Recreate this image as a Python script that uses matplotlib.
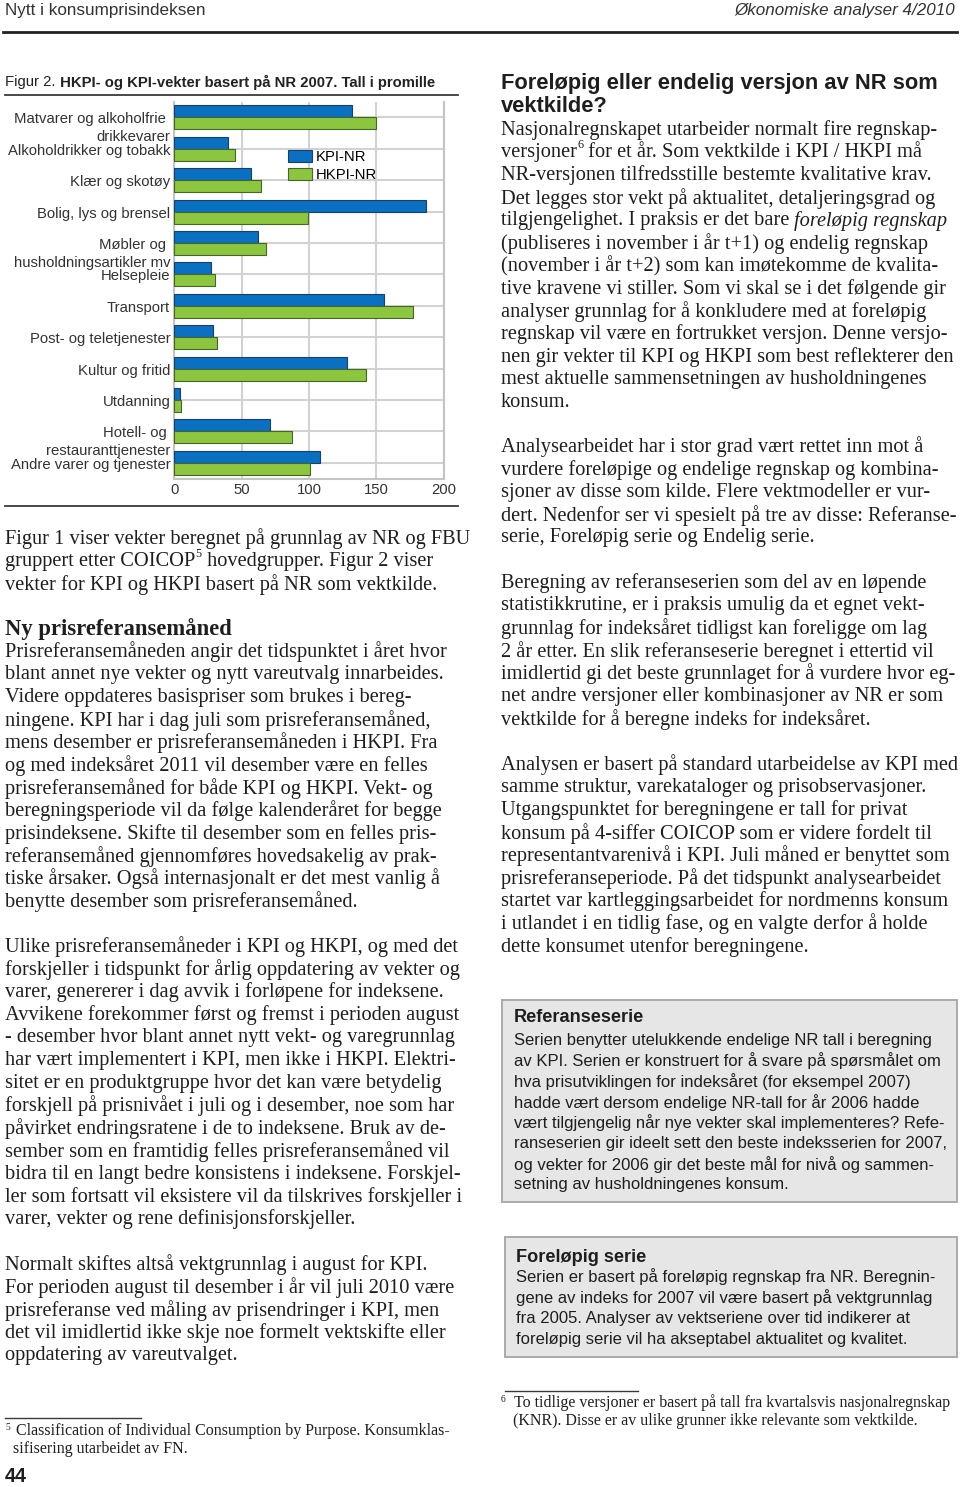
import re
import matplotlib
matplotlib.use('Agg')
import matplotlib.pyplot as plt
from matplotlib.patches import Rectangle
from matplotlib.lines import Line2D
import numpy as np

# --- chart data (promille) ---
categories = [
    'Matvarer og alkoholfrie\ndrikkevarer',
    'Alkoholdrikker og tobakk',
    'Klær og skotøy',
    'Bolig, lys og brensel',
    'Møbler og\nhusholdningsartikler mv',
    'Helsepleie',
    'Transport',
    'Post- og teletjenester',
    'Kultur og fritid',
    'Utdanning',
    'Hotell- og\nrestauranttjenester',
    'Andre varer og tjenester',
]
kpi_nr = [132, 40, 57, 187, 62, 27.5, 156, 28.5, 128, 4.5, 71, 108]
hkpi_nr = [150, 45, 64.5, 99, 68, 30.5, 177, 32, 142.5, 5, 87.5, 101]
x_ticks = [0, 50, 100, 150, 200]
series_names = ['KPI-NR', 'HKPI-NR']
chart_title = ['Figur 2.', ' HKPI- og KPI-vekter basert på NR 2007. Tall i promille']

# --- page text ---
header_left = 'Nytt i konsumprisindeksen'
header_right = 'Økonomiske analyser 4/2010'
page_number = '44'

left_p1 = [
    'Figur 1 viser vekter beregnet på grunnlag av NR og FBU',
    'gruppert etter COICOP^5 hovedgrupper. Figur 2 viser',
    'vekter for KPI og HKPI basert på NR som vektkilde.',
]
left_h2 = 'Ny prisreferansemåned'
left_p2 = [
    'Prisreferansemåneden angir det tidspunktet i året hvor',
    'blant annet nye vekter og nytt vareutvalg innarbeides.',
    'Videre oppdateres basispriser som brukes i bereg-',
    'ningene. KPI har i dag juli som prisreferansemåned,',
    'mens desember er prisreferansemåneden i HKPI. Fra',
    'og med indeksåret 2011 vil desember være en felles',
    'prisreferansemåned for både KPI og HKPI. Vekt- og',
    'beregningsperiode vil da følge kalenderåret for begge',
    'prisindeksene. Skifte til desember som en felles pris-',
    'referansemåned gjennomføres hovedsakelig av prak-',
    'tiske årsaker. Også internasjonalt er det mest vanlig å',
    'benytte desember som prisreferansemåned.',
]
left_p3 = [
    'Ulike prisreferansemåneder i KPI og HKPI, og med det',
    'forskjeller i tidspunkt for årlig oppdatering av vekter og',
    'varer, genererer i dag avvik i forløpene for indeksene.',
    'Avvikene forekommer først og fremst i perioden august',
    '- desember hvor blant annet nytt vekt- og varegrunnlag',
    'har vært implementert i KPI, men ikke i HKPI. Elektri-',
    'sitet er en produktgruppe hvor det kan være betydelig',
    'forskjell på prisnivået i juli og i desember, noe som har',
    'påvirket endringsratene i de to indeksene. Bruk av de-',
    'sember som en framtidig felles prisreferansemåned vil',
    'bidra til en langt bedre konsistens i indeksene. Forskjel-',
    'ler som fortsatt vil eksistere vil da tilskrives forskjeller i',
    'varer, vekter og rene definisjonsforskjeller.',
]
left_p4 = [
    'Normalt skiftes altså vektgrunnlag i august for KPI.',
    'For perioden august til desember i år vil juli 2010 være',
    'prisreferanse ved måling av prisendringer i KPI, men',
    'det vil imidlertid ikke skje noe formelt vektskifte eller',
    'oppdatering av vareutvalget.',
]
footnote5 = [
    'Classification of Individual Consumption by Purpose. Konsumklas-',
    'sifisering utarbeidet av FN.',
]

right_h = ['Foreløpig eller endelig versjon av NR som', 'vektkilde?']
right_p1 = [
    'Nasjonalregnskapet utarbeider normalt fire regnskap-',
    'versjoner^6 for et år. Som vektkilde i KPI / HKPI må',
    'NR-versjonen tilfredsstille bestemte kvalitative krav.',
    'Det legges stor vekt på aktualitet, detaljeringsgrad og',
    'tilgjengelighet. I praksis er det bare *foreløpig regnskap*',
    '(publiseres i november i år t+1) og endelig regnskap',
    '(november i år t+2) som kan imøtekomme de kvalita-',
    'tive kravene vi stiller. Som vi skal se i det følgende gir',
    'analyser grunnlag for å konkludere med at foreløpig',
    'regnskap vil være en fortrukket versjon. Denne versjo-',
    'nen gir vekter til KPI og HKPI som best reflekterer den',
    'mest aktuelle sammensetningen av husholdningenes',
    'konsum.',
]
right_p2 = [
    'Analysearbeidet har i stor grad vært rettet inn mot å',
    'vurdere foreløpige og endelige regnskap og kombina-',
    'sjoner av disse som kilde. Flere vektmodeller er vur-',
    'dert. Nedenfor ser vi spesielt på tre av disse: Referanse-',
    'serie, Foreløpig serie og Endelig serie.',
]
right_p3 = [
    'Beregning av referanseserien som del av en løpende',
    'statistikkrutine, er i praksis umulig da et egnet vekt-',
    'grunnlag for indeksåret tidligst kan foreligge om lag',
    '2 år etter. En slik referanseserie beregnet i ettertid vil',
    'imidlertid gi det beste grunnlaget for å vurdere hvor eg-',
    'net andre versjoner eller kombinasjoner av NR er som',
    'vektkilde for å beregne indeks for indeksåret.',
]
right_p4 = [
    'Analysen er basert på standard utarbeidelse av KPI med',
    'samme struktur, varekataloger og prisobservasjoner.',
    'Utgangspunktet for beregningene er tall for privat',
    'konsum på 4-siffer COICOP som er videre fordelt til',
    'representantvarenivå i KPI. Juli måned er benyttet som',
    'prisreferanseperiode. På det tidspunkt analysearbeidet',
    'startet var kartleggingsarbeidet for nordmenns konsum',
    'i utlandet i en tidlig fase, og en valgte derfor å holde',
    'dette konsumet utenfor beregningene.',
]
box1_head = 'Referanseserie'
box1_lines = [
    'Serien benytter utelukkende endelige NR tall i beregning',
    'av KPI. Serien er konstruert for å svare på spørsmålet om',
    'hva prisutviklingen for indeksåret (for eksempel 2007)',
    'hadde vært dersom endelige NR-tall for år 2006 hadde',
    'vært tilgjengelig når nye vekter skal implementeres? Refe-',
    'ranseserien gir ideelt sett den beste indeksserien for 2007,',
    'og vekter for 2006 gir det beste mål for nivå og sammen-',
    'setning av husholdningenes konsum.',
]
box2_head = 'Foreløpig serie'
box2_lines = [
    'Serien er basert på foreløpig regnskap fra NR. Beregnin-',
    'gene av indeks for 2007 vil være basert på vektgrunnlag',
    'fra 2005. Analyser av vektseriene over tid indikerer at',
    'foreløpig serie vil ha akseptabel aktualitet og kvalitet.',
]
footnote6 = [
    'To tidlige versjoner er basert på tall fra kvartalsvis nasjonalregnskap',
    '(KNR). Disse er av ulike grunner ikke relevante som vektkilde.',
]

W, H = 960, 1487
TXT = '#1e1e1e'
BLUE, BLUE_E = '#0a70c2', '#1b3f66'
GREEN, GREEN_E = '#8cc63f', '#45652a'
GRID = '#d2d2d2'

SERIF = dict(family=['Liberation Serif', 'DejaVu Serif'])
SERIF_B = dict(SERIF, weight='bold')
SERIF_I = dict(SERIF, style='italic')
SANS = dict(family=['Liberation Sans Narrow', 'Liberation Sans', 'DejaVu Sans'])
SANS_B = dict(SANS, weight='bold')
SANS_I = dict(SANS, style='italic')

fig = plt.figure(figsize=(W / 100, H / 100), dpi=100)
fig.patch.set_facecolor('white')
renderer = fig.canvas.get_renderer()


def fx(x):
    return x / W


def fy(y):
    return 1 - y / H


def parse(line, base, italic):
    segs = []
    for part in re.split(r'(\*[^*]+\*|\^\d)', line):
        if not part:
            continue
        if part.startswith('*'):
            segs.append((part[1:-1], italic))
        elif part.startswith('^'):
            segs.append((part[1:], dict(base, scale=0.6, rise=0.38)))
        else:
            segs.append((part, base))
    return segs


def draw_segs(x, y, segs, size, color=TXT, measure=False):
    cur = x
    made = []
    for text, props in segs:
        p = dict(props)
        scale = p.pop('scale', 1.0)
        rise = p.pop('rise', 0.0) * size * 100 / 72
        t = fig.text(fx(cur), fy(y - rise), text, fontsize=size * scale,
                     ha='left', va='center', color=color, **p)
        bb = t.get_window_extent(renderer)
        cur = bb.x1
        made.append(t)
    if measure:
        for t in made:
            t.remove()
    return cur - x


def fit(segs, target):
    return 10 * target / draw_segs(0, -200, segs, 10, measure=True)


def hline(x0, x1, y, lw, color='#3a3a3a'):
    fig.add_artist(Line2D([fx(x0), fx(x1)], [fy(y), fy(y)],
                          transform=fig.transFigure, color=color, lw=lw))


def block(x, y0, lines, size, step=22.7, base=SERIF, italic=SERIF_I):
    for i, line in enumerate(lines):
        draw_segs(x, y0 + i * step, parse(line, base, italic), size)


# --- header ---
hs = fit([(header_left, SANS)], 191) * 1.05
draw_segs(5, 11, [(header_left, SANS)], hs, color='#333333')
hr = fit([(header_right, SANS_I)], 211) * 1.05
fig.text(fx(955), fy(11), header_right, fontsize=hr, ha='right', va='center',
         color='#333333', **SANS_I)
hline(3, 957, 32, 2.0, '#222222')

# --- body text sizes ---
body = (fit([(left_p2[0], SERIF)], 445) + fit([(right_p1[0], SERIF)], 435)) / 2

block(5, 539, left_p1, body)
hsz = fit([(left_h2, SERIF_B)], 228)
draw_segs(5, 629, [(left_h2, SERIF_B)], hsz)
block(5, 652, left_p2, body)
block(5, 947, left_p3, body)
block(5, 1265, left_p4, body)

rh = fit([(right_h[0], SANS_B)], 450) * 0.97
draw_segs(501, 84, [(right_h[0], SANS_B)], rh)
draw_segs(501, 106, [(right_h[1], SANS_B)], rh)
block(501, 130, right_p1, body)
block(501, 447, right_p2, body)
block(501, 583, right_p3, body)
block(501, 765, right_p4, body)

# --- boxes ---
bs = fit([(box1_lines[0], SANS)], 409) * 1.02
bh = fit([(box1_head, SANS_B)], 130)
for (x0, y0, x1, y1) in [(502, 1000, 957, 1202), (505, 1237, 957, 1357)]:
    fig.add_artist(Rectangle((fx(x0), fy(y1)), fx(x1) - fx(x0), (y1 - y0) / H,
                             transform=fig.transFigure, facecolor='#e6e6e6',
                             edgecolor='#aaaaaa', lw=1.4))
draw_segs(514, 1018, [(box1_head, SANS_B)], bh)
block(514, 1040, box1_lines, bs, step=20.7, base=SANS, italic=SANS_I)
draw_segs(516, 1257, [(box2_head, SANS_B)], bh)
block(516, 1277, box2_lines, bs, step=20.8, base=SANS, italic=SANS_I)

# --- footnotes ---
fs = fit([(footnote5[0], SERIF)], 435)
hline(5, 141, 1418, 1.0)
draw_segs(5, 1427, [('5', SERIF)], fs * 0.6)
draw_segs(16, 1431, [(footnote5[0], SERIF)], fs)
draw_segs(13, 1449, [(footnote5[1], SERIF)], fs)
hline(505, 638, 1391, 1.0)
draw_segs(501, 1399, [('6', SERIF)], fs * 0.6)
draw_segs(514, 1403, [(footnote6[0], SERIF)], fs)
draw_segs(513, 1421, [(footnote6[1], SERIF)], fs)
pn = fit([(page_number, SANS_B)], 22)
draw_segs(5, 1477, [(page_number, SANS_B)], pn)

# --- chart ---
ts = fit([(chart_title[0], SANS), (chart_title[1], SANS_B)], 430)
draw_segs(5, 82, [(chart_title[0], SANS), (chart_title[1], SANS_B)], ts, color='#222222')
hline(5, 458, 95, 1.3)
hline(5, 458, 506, 1.3)

lab = fit([('Bolig, lys og brensel', SANS)], 128) * 1.04

ax_l, ax_r, ax_t = 174.3, 443.7, 101.7
ax_b = ax_t + 12 * 31.4
ax = fig.add_axes([fx(ax_l), fy(ax_b), (ax_r - ax_l) / W, (ax_b - ax_t) / H])
y = np.arange(len(categories))
ax.barh(y - 0.19, kpi_nr, height=0.38, color=BLUE, edgecolor=BLUE_E, lw=0.8,
        label=series_names[0], zorder=3)
ax.barh(y + 0.19, hkpi_nr, height=0.38, color=GREEN, edgecolor=GREEN_E, lw=0.8,
        label=series_names[1], zorder=3)
ax.set_xlim(0, 200)
ax.set_ylim(len(categories) - 0.5, -0.5)
ax.set_yticks(y)
ax.set_yticklabels([])
ax.set_xticks(x_ticks)
ax.set_xticklabels([str(v) for v in x_ticks], fontsize=lab, color='#333333', **SANS)
ax.tick_params(length=0)
ax.tick_params(axis='x', pad=3)
ax.grid(True, color=GRID, lw=1.5, zorder=0)
ax.set_axisbelow(True)
ax.spines['top'].set_visible(False)
for s in ['left', 'bottom', 'right']:
    ax.spines[s].set_color('#c4c4c4')
    ax.spines[s].set_linewidth(1.5)

for i, name in enumerate(categories):
    parts = name.split('\n')
    for k, part in enumerate(parts):
        dx = -4 - (4 if k < len(parts) - 1 else 0)
        ax.annotate(part, xy=(0, i), xycoords=('axes fraction', 'data'),
                    xytext=(dx, -2 - 18 * k), textcoords='offset pixels',
                    ha='right', va='center', fontsize=lab, color='#333333', **SANS)

ax.legend(loc='upper left', bbox_to_anchor=(fx(288), fy(150)),
          bbox_transform=fig.transFigure, frameon=False,
          prop=dict(family=SANS['family'], size=lab),
          handlelength=1.6, handleheight=0.9, handletextpad=0.3,
          labelspacing=0.25, borderpad=0, borderaxespad=0)

fig.savefig('out.png', dpi=100)
